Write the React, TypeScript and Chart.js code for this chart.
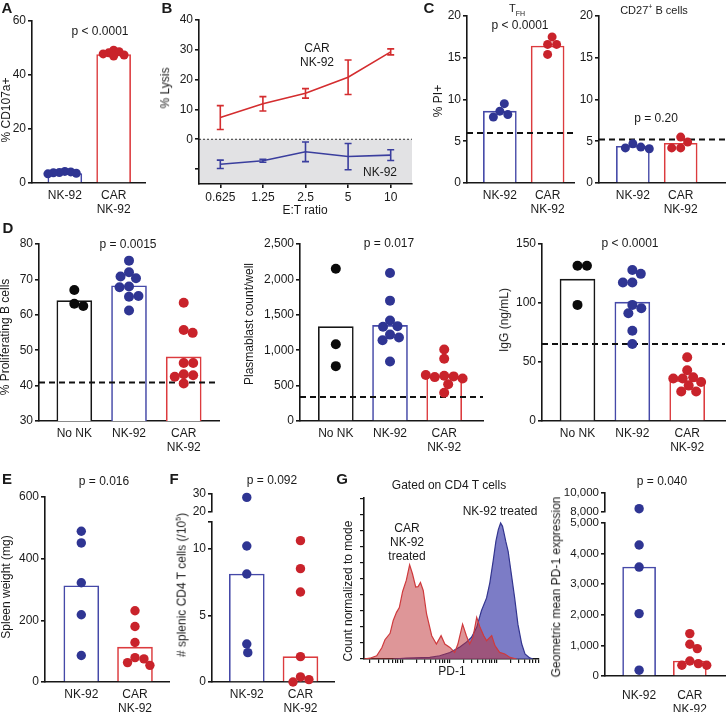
import React, { useEffect, useRef } from 'react';
import { Chart, registerables } from 'chart.js';
Chart.register(...registerables);

const FONT = "'Liberation Sans', Arial, Helvetica, sans-serif";
Chart.defaults.font.family = FONT;
Chart.defaults.font.size = 12;
Chart.defaults.color = '#1a1a1a';

const BLUE_DOT = '#2f3593';
const RED_DOT = '#c9232b';
const BLACK_DOT = '#0a0a0a';
const BLUE_BAR = '#4549a8';
const RED_BAR = '#dc3b3e';
const AXIS = '#161616';

// ---------- data ----------
const cats2: (string | string[])[] = ['NK-92', ['CAR', 'NK-92']];
const cats3: (string | string[])[] = ['No NK', 'NK-92', ['CAR', 'NK-92']];

// A: % CD107a+
const aNk = [4.3, 4.1, 3.9, 3.8, 3.6, 3.4];
const aCar = [49.2, 48.6, 48.2, 47.8, 47.4, 47.0];
const aBars = [3.5, 47.6];

// B: % lysis
const bRatios = ['0.625', '1.25', '2.5', '5', '10'];
const bCar = [7.3, 11.9, 15.4, 20.8, 29.3];
const bCarErr = [4.0, 2.4, 1.6, 5.8, 1.0];
const bNk = [-8.4, -7.2, -4.2, -5.8, -5.3];
const bNkErr = [1.4, 0.5, 3.3, 4.4, 1.8];

// C: % PI+
const cTfhNk = [8.6, 9.5, 8.2, 7.9];
const cTfhCar = [16.6, 16.6, 17.5, 15.4];
const cTfhBars = [8.6, 16.4];
const cTfhBaseline = 6.0;
const cB27Nk = [4.7, 4.3, 4.2, 4.1];
const cB27Car = [5.5, 4.9, 4.2, 4.2];
const cB27Bars = [4.4, 4.75];
const cB27Baseline = 5.2;

// D1: % proliferating B cells
const d1NoNk = [67.0, 63.1, 62.5];
const d1Nk = [75.3, 72.0, 70.3, 70.8, 68.0, 67.8, 65.1, 65.3, 61.2];
const d1Car = [63.4, 55.7, 54.9, 46.4, 46.4, 43.2, 42.9, 42.5, 40.6];
const d1Bars = [64.0, 68.2, 48.1];
const d1Baseline = 40.9;

// D2: plasmablast count/well
const d2NoNk = [2150, 1083, 775];
const d2Nk = [2090, 1700, 1420, 1340, 1330, 1220, 1180, 1140, 840];
const d2Car = [1010, 880, 640, 630, 620, 650, 600, 520, 400];
const d2Bars = [1333, 1350, 633];
const d2Baseline = 340;

// D3: IgG (ng/mL)
const d3NoNk = [131.5, 131.5, 98.4];
const d3Nk = [128, 124.7, 117.4, 117.4, 98.4, 95.6, 91.3, 76.5, 65.2];
const d3Car = [54, 43, 37, 36, 36, 33, 30, 25, 25];
const d3Bars = [120.2, 100.7, 34.3];
const d3Baseline = 65.2;

// E: spleen weight (mg)
const eNk = [489, 451, 322, 218, 86];
const eCar = [231, 180, 128, 79, 75, 63, 54];
const eBars = [312, 113];

// F: # splenic CD4 T cells (/10^5)
const fNk = [28.1, 10.2, 8.1, 2.85, 2.2];
const fCar = [10.6, 8.5, 6.75, 1.9, 0.38, 0.18, 0.0];
const fBars = [8.1, 1.9];

// G: geometric mean PD-1 expression
const gNk = [8350, 4280, 3560, 2040, 190];
const gCar = [1385, 1036, 895, 490, 405, 350, 350];
const gBars = [3560, 490];

// G histogram (PD-1 intensity, count normalized to mode)
const pd1Car = [15, 20, 28, 36, 42, 54, 63, 74, 85, 100, 120, 141, 162, 190, 214, 240, 275, 324, 417, 525, 661, 794, 1020, 1290, 1510, 1900, 2290, 2690, 3160, 3800, 4470, 5370, 6170, 7940, 9330, 11700, 15100, 19500, 26900];
const countCar = [0, 0.5, 2, 7, 12, 16, 24, 29, 32, 42, 49, 58.6, 53, 44.8, 45, 47.6, 42.6, 28, 14.5, 9.3, 14.5, 9.3, 7.2, 4.1, 9.3, 21.7, 14.5, 9.3, 13.5, 25.9, 19.7, 14.5, 11.4, 14.5, 8.3, 4.1, 3.1, 1, 0];
const pd1Nk = [63, 120, 380, 617, 1020, 1660, 2290, 2950, 3800, 4790, 6170, 7240, 8510, 9770, 11000, 12300, 13500, 14500, 15800, 17800, 20900, 24500, 28800, 34700, 40700, 51300, 60300];
const countNk = [0, 0.5, 1, 2, 4, 7.5, 10.5, 13.5, 19.7, 30, 38, 47.4, 60.9, 73.3, 80.5, 84.6, 82.5, 78.4, 73.3, 67, 52.5, 38, 21.5, 9.3, 3.1, 0.7, 0];

// ---------- layout helpers ----------
const YAW = 52, PT = 10, PR = 4, XAH = 44;
type Rect = [number, number, number, number];
type Geom = { x: number; y: number; w: number; h: number };

function geom(rect: Rect, showX = true): Geom {
  const [l, t, r, b] = rect;
  return { x: l - YAW, y: t - PT, w: r - l + YAW + PR, h: b - t + PT + (showX ? XAH : PT) };
}

function swarm(vals: number[], yPix: (v: number) => number, r: number, k: number): number[] {
  const placed: [number, number][] = [];
  return vals.map((v) => {
    const y = yPix(v);
    let off = 0;
    for (let s = 0; s < 600; s++) {
      const c = s === 0 ? 0 : (s % 2 === 1 ? 1 : -1) * Math.ceil(s / 2) * 0.5;
      if (placed.every(([px, py]) => Math.hypot(px - c, py - y) >= 2 * r * k)) { off = c; break; }
    }
    placed.push([off, y]);
    return off;
  });
}

interface BarSpec {
  rect: Rect;
  cats: (string | string[])[];
  xMin: number; xMax: number;
  yMin: number; yMax: number;
  yTicks: number[];
  ySkip?: number[];
  groups: number[][];
  dotColors: string[];
  bars?: number[];
  barColors?: string[];
  barW?: number;
  baseline?: number;
  radius: number;
  overlap: number;
  labelPad: number;
  showX?: boolean;
  yPix?: (v: number) => number;
  yFont?: number;
}

function barConfig(s: BarSpec): any {
  const [l, t, r, b] = s.rect;
  const pxPerX = (r - l) / (s.xMax - s.xMin);
  const yPix = s.yPix ?? ((v: number) => ((v - s.yMin) * (b - t)) / (s.yMax - s.yMin));
  const datasets: any[] = [];
  s.groups.forEach((vals, gi) => {
    const offs = swarm(vals, yPix, s.radius, s.overlap);
    datasets.push({
      type: 'scatter',
      data: vals.map((v, i) => ({ x: gi + 1 + offs[i] / pxPerX, y: v })),
      backgroundColor: s.dotColors[gi],
      borderWidth: 0,
      pointRadius: s.radius,
      pointHoverRadius: s.radius,
      clip: 8,
      order: 0,
    });
  });
  if (s.baseline !== undefined) {
    datasets.push({
      type: 'line',
      data: [{ x: s.xMin, y: s.baseline }, { x: s.xMax, y: s.baseline }],
      borderColor: '#111', borderWidth: 2, borderDash: [6, 4], pointRadius: 0, fill: false, order: 1,
    });
  }
  if (s.bars) {
    datasets.push({
      type: 'bar',
      data: s.bars.map((v, i) => ({ x: i + 1, y: v })),
      backgroundColor: 'rgba(255,255,255,1)',
      borderColor: s.barColors,
      borderWidth: 1.6,
      barThickness: s.barW ?? 34,
      borderSkipped: 'start',
      order: 2,
    });
  }
  const showX = s.showX !== false;
  return {
    type: 'bar',
    data: { datasets },
    options: {
      responsive: false,
      animation: false,
      events: [],
      layout: { padding: { top: PT, right: PR, left: 0, bottom: showX ? 0 : PT } },
      plugins: { legend: { display: false }, tooltip: { enabled: false } },
      scales: {
        x: {
          type: 'linear', min: s.xMin, max: s.xMax, offset: false, bounds: 'data', display: showX,
          grid: { display: false, drawTicks: false },
          border: { display: true, color: AXIS, width: 1.6 },
          ticks: {
            padding: s.labelPad, autoSkip: false, maxRotation: 0, minRotation: 0, color: '#1a1a1a', font: { size: 12 },
            callback: (v: number) => s.cats[Math.round(v) - 1] ?? '',
          },
          afterBuildTicks: (sc: any) => { sc.ticks = s.cats.map((_, i) => ({ value: i + 1 })); },
          afterFit: (sc: any) => { if (showX) sc.height = XAH; },
        },
        y: {
          type: 'linear', min: s.yMin, max: s.yMax, bounds: 'data',
          grid: { display: true, drawOnChartArea: false, drawTicks: true, tickLength: 4, color: AXIS, lineWidth: 1.6 },
          border: { display: true, color: AXIS, width: 1.6 },
          ticks: {
            padding: 2, autoSkip: false, color: '#1a1a1a', font: { size: s.yFont ?? 12 },
            callback: (v: number) => (s.ySkip && s.ySkip.includes(v) ? '' : v.toLocaleString('en-US')),
          },
          afterBuildTicks: (sc: any) => { sc.ticks = s.yTicks.map((v) => ({ value: v })); },
          afterFit: (sc: any) => { sc.width = YAW; },
        },
      },
    },
  };
}

const lysisPlugin = {
  id: 'lysisDecor',
  beforeDraw(chart: any) {
    const { ctx, chartArea: a, scales } = chart;
    const y0 = scales.y.getPixelForValue(0);
    ctx.save();
    ctx.fillStyle = '#e2e2e4';
    ctx.fillRect(a.left, y0, a.right - a.left, a.bottom - y0);
    ctx.strokeStyle = '#333';
    ctx.lineWidth = 1;
    ctx.setLineDash([2, 2]);
    ctx.beginPath();
    ctx.moveTo(a.left, y0);
    ctx.lineTo(a.right, y0);
    ctx.stroke();
    ctx.restore();
  },
  afterDatasetsDraw(chart: any) {
    const { ctx, scales } = chart;
    const errs = [bCarErr, bNkErr];
    chart.data.datasets.forEach((ds: any, di: number) => {
      const meta = chart.getDatasetMeta(di);
      ctx.save();
      ctx.strokeStyle = ds.borderColor;
      ctx.lineWidth = 1.6;
      meta.data.forEach((pt: any, j: number) => {
        const v = ds.data[j];
        const e = errs[di][j];
        const yHi = scales.y.getPixelForValue(v + e);
        const yLo = scales.y.getPixelForValue(v - e);
        ctx.beginPath();
        ctx.moveTo(pt.x, yHi); ctx.lineTo(pt.x, yLo);
        ctx.moveTo(pt.x - 3.5, yHi); ctx.lineTo(pt.x + 3.5, yHi);
        ctx.moveTo(pt.x - 3.5, yLo); ctx.lineTo(pt.x + 3.5, yLo);
        ctx.stroke();
      });
      ctx.restore();
    });
  },
};

function lysisConfig(): any {
  return {
    type: 'line',
    data: {
      labels: bRatios,
      datasets: [
        { data: bCar, borderColor: '#d42d2f', borderWidth: 1.6, pointRadius: 0, tension: 0, fill: false },
        { data: bNk, borderColor: '#3a3e9e', borderWidth: 1.6, pointRadius: 0, tension: 0, fill: false },
      ],
    },
    options: {
      responsive: false, animation: false, events: [],
      layout: { padding: { top: PT, right: PR, left: 0, bottom: 0 } },
      plugins: { legend: { display: false }, tooltip: { enabled: false } },
      scales: {
        x: {
          type: 'category', offset: true,
          grid: { display: true, offset: false, drawOnChartArea: false, drawTicks: true, tickLength: 4, color: AXIS, lineWidth: 1.6 },
          border: { display: true, color: AXIS, width: 1.6 },
          ticks: { padding: 2, autoSkip: false, maxRotation: 0, color: '#1a1a1a' },
          afterFit: (sc: any) => { sc.height = XAH; },
        },
        y: {
          type: 'linear', min: -15, max: 40, bounds: 'data',
          grid: { display: true, drawOnChartArea: false, drawTicks: true, tickLength: 4, color: AXIS, lineWidth: 1.6 },
          border: { display: true, color: AXIS, width: 1.6 },
          ticks: { padding: 2, autoSkip: false, color: '#1a1a1a', callback: (v: number) => (v < 0 ? '' : String(v)) },
          afterBuildTicks: (sc: any) => { sc.ticks = [-10, 0, 10, 20, 30, 40].map((v) => ({ value: v })); },
          afterFit: (sc: any) => { sc.width = YAW; },
        },
      },
    },
    plugins: [lysisPlugin],
  };
}

function histConfig(): any {
  return {
    type: 'line',
    data: {
      datasets: [
        {
          data: pd1Car.map((x, i) => ({ x, y: countCar[i] })),
          borderColor: '#cf3a3d', borderWidth: 1.2, backgroundColor: 'rgba(190,45,50,0.5)',
          fill: 'origin', pointRadius: 0, tension: 0, order: 0,
        },
        {
          data: pd1Nk.map((x, i) => ({ x, y: countNk[i] })),
          borderColor: '#33358f', borderWidth: 1.2, backgroundColor: 'rgba(95,95,185,0.82)',
          fill: 'origin', pointRadius: 0, tension: 0, order: 1,
        },
      ],
    },
    options: {
      responsive: false, animation: false, events: [],
      layout: { padding: { top: PT, right: PR, left: 0, bottom: 0 } },
      plugins: { legend: { display: false }, tooltip: { enabled: false } },
      scales: {
        x: {
          type: 'logarithmic', min: 15, max: 81000,
          grid: { display: true, drawOnChartArea: false, drawTicks: true, tickLength: 4, color: AXIS, lineWidth: 1.2 },
          border: { display: true, color: AXIS, width: 1.6 },
          ticks: { autoSkip: false, maxRotation: 0, callback: () => '' },
          afterBuildTicks: (sc: any) => {
            const t: { value: number }[] = [];
            for (let e = 1; e <= 4; e++) for (let m = 1; m <= 9; m++) {
              const v = m * Math.pow(10, e);
              if (v >= 15 && v <= 81000) t.push({ value: v });
            }
            sc.ticks = t;
          },
          afterFit: (sc: any) => { sc.height = XAH; },
        },
        y: {
          type: 'linear', min: 0, max: 100, bounds: 'data',
          grid: { display: true, drawOnChartArea: false, drawTicks: true, tickLength: 4, color: AXIS, lineWidth: 1.2 },
          border: { display: true, color: AXIS, width: 1.6 },
          ticks: { autoSkip: false, callback: () => '' },
          afterBuildTicks: (sc: any) => { sc.ticks = [0, 10, 20, 30, 40, 50, 60, 70, 80, 90, 100].map((v) => ({ value: v })); },
          afterFit: (sc: any) => { sc.width = YAW; },
        },
      },
    },
  };
}

// broken-axis pixel maps for swarm layout
const yPixF = (v: number) => (v <= 12 ? v * 13.25 : 12 * 13.25 + 10 + (v - 20) * 1.8);
const yPixG = (v: number) => (v <= 5000 ? v * 0.0306 : 5000 * 0.0306 + 10 + (v - 8000) * 0.0095);

const specA: BarSpec = {
  rect: [32, 21, 146, 183], cats: cats2, xMin: 0.327, xMax: 2.653, yMin: 0, yMax: 60, yTicks: [0, 20, 40, 60],
  groups: [aNk, aCar], dotColors: [BLUE_DOT, RED_DOT], bars: aBars, barColors: [BLUE_BAR, RED_BAR], barW: 34,
  radius: 4.5, overlap: 0.62, labelPad: 5,
};
const specC1: BarSpec = {
  rect: [467, 16, 575, 183], cats: cats2, xMin: 0.3125, xMax: 2.5625, yMin: 0, yMax: 20, yTicks: [0, 5, 10, 15, 20],
  groups: [cTfhNk, cTfhCar], dotColors: [BLUE_DOT, RED_DOT], bars: cTfhBars, barColors: [BLUE_BAR, RED_BAR], barW: 33,
  baseline: cTfhBaseline, radius: 4.5, overlap: 0.95, labelPad: 5,
};
const specC2: BarSpec = {
  rect: [599, 16, 726, 183], cats: cats2, xMin: 0.292, xMax: 2.9375, yMin: 0, yMax: 20, yTicks: [0, 5, 10, 15, 20],
  groups: [cB27Nk, cB27Car], dotColors: [BLUE_DOT, RED_DOT], bars: cB27Bars, barColors: [BLUE_BAR, RED_BAR], barW: 33,
  baseline: cB27Baseline, radius: 4.5, overlap: 0.95, labelPad: 5,
};
const specD1: BarSpec = {
  rect: [39, 244, 220, 421], cats: cats3, xMin: 0.3545, xMax: 3.645, yMin: 30, yMax: 80, yTicks: [30, 40, 50, 60, 70, 80],
  groups: [d1NoNk, d1Nk, d1Car], dotColors: [BLACK_DOT, BLUE_DOT, RED_DOT], bars: d1Bars, barColors: [AXIS, BLUE_BAR, RED_BAR], barW: 35,
  baseline: d1Baseline, radius: 5, overlap: 0.92, labelPad: 5,
};
const specD2: BarSpec = {
  rect: [300, 244, 484, 421], cats: cats3, xMin: 0.339, xMax: 3.716, yMin: 0, yMax: 2500, yTicks: [0, 500, 1000, 1500, 2000, 2500],
  groups: [d2NoNk, d2Nk, d2Car], dotColors: [BLACK_DOT, BLUE_DOT, RED_DOT], bars: d2Bars, barColors: [AXIS, BLUE_BAR, RED_BAR], barW: 35,
  baseline: d2Baseline, radius: 5, overlap: 0.92, labelPad: 5,
};
const specD3: BarSpec = {
  rect: [542, 244, 726, 421], cats: cats3, xMin: 0.353, xMax: 3.689, yMin: 0, yMax: 150, yTicks: [0, 50, 100, 150],
  groups: [d3NoNk, d3Nk, d3Car], dotColors: [BLACK_DOT, BLUE_DOT, RED_DOT], bars: d3Bars, barColors: [AXIS, BLUE_BAR, RED_BAR], barW: 35,
  baseline: d3Baseline, radius: 5, overlap: 0.92, labelPad: 5,
};
const specE: BarSpec = {
  rect: [45, 497, 170, 682], cats: cats2, xMin: 0.324, xMax: 2.639, yMin: 0, yMax: 600, yTicks: [0, 200, 400, 600],
  groups: [eNk, eCar], dotColors: [BLUE_DOT, RED_DOT], bars: eBars, barColors: [BLUE_BAR, RED_BAR], barW: 35,
  radius: 4.7, overlap: 0.92, labelPad: 5,
};
const specFLow: BarSpec = {
  rect: [212, 522, 335, 682], cats: cats2, xMin: 0.352, xMax: 2.63, yMin: 0, yMax: 12, yTicks: [0, 5, 10, 12], ySkip: [12],
  groups: [fNk, fCar], dotColors: [BLUE_DOT, RED_DOT], bars: fBars, barColors: [BLUE_BAR, RED_BAR], barW: 35,
  radius: 4.7, overlap: 0.92, labelPad: 5, yPix: yPixF,
};
const specFHigh: BarSpec = {
  rect: [212, 494, 335, 512], cats: cats2, xMin: 0.352, xMax: 2.63, yMin: 20, yMax: 30, yTicks: [20, 30],
  groups: [fNk, fCar], dotColors: [BLUE_DOT, RED_DOT], radius: 4.7, overlap: 0.92, labelPad: 5, yPix: yPixF, showX: false,
};
const specGLow: BarSpec = {
  rect: [605, 523, 726, 676], cats: cats2, xMin: 0.327, xMax: 2.70, yMin: 0, yMax: 5000, yTicks: [0, 1000, 2000, 3000, 4000, 5000],
  groups: [gNk, gCar], dotColors: [BLUE_DOT, RED_DOT], bars: gBars, barColors: [BLUE_BAR, RED_BAR], barW: 33,
  radius: 4.7, overlap: 0.92, labelPad: 12, yPix: yPixG, yFont: 11.5,
};
const specGHigh: BarSpec = {
  rect: [605, 493, 726, 512], cats: cats2, xMin: 0.327, xMax: 2.70, yMin: 8000, yMax: 10000, yTicks: [8000, 10000],
  groups: [gNk, gCar], dotColors: [BLUE_DOT, RED_DOT], radius: 4.7, overlap: 0.92, labelPad: 12, yPix: yPixG, showX: false, yFont: 11.5,
};

function ChartBox({ g, make }: { g: Geom; make: () => any }) {
  const ref = useRef<HTMLCanvasElement>(null);
  useEffect(() => {
    const chart = new Chart(ref.current as HTMLCanvasElement, make());
    return () => chart.destroy();
  }, []);
  return (
    <canvas ref={ref} width={g.w} height={g.h}
      style={{ position: 'absolute', left: g.x, top: g.y, width: g.w, height: g.h }} />
  );
}

function BarBox({ s }: { s: BarSpec }) {
  return <ChartBox g={geom(s.rect, s.showX !== false)} make={() => barConfig(s)} />;
}

function Label({ x, y, rot, size = 12, bold, children }: any) {
  return (
    <div style={{
      position: 'absolute', left: x, top: y,
      transform: `translate(-50%, -50%)${rot ? ' rotate(-90deg)' : ''}`,
      whiteSpace: 'nowrap', fontFamily: FONT, fontSize: size, fontWeight: bold ? 700 : 400,
      color: '#1a1a1a', lineHeight: 1.15, textAlign: 'center',
    }}>{children}</div>
  );
}

export default function App() {
  return (
    <div style={{ position: 'absolute', left: 0, top: 0, width: 726, height: 712, overflow: 'hidden', background: '#fff' }}>
      <BarBox s={specA} />
      <ChartBox g={geom([199, 20, 412, 184])} make={lysisConfig} />
      <BarBox s={specC1} />
      <BarBox s={specC2} />
      <BarBox s={specD1} />
      <BarBox s={specD2} />
      <BarBox s={specD3} />
      <BarBox s={specE} />
      <BarBox s={specFLow} />
      <BarBox s={specFHigh} />
      <ChartBox g={geom([364, 498, 539, 659])} make={histConfig} />
      <BarBox s={specGLow} />
      <BarBox s={specGHigh} />

      {/* panel letters */}
      <Label x={7} y={8} size={15} bold>A</Label>
      <Label x={167} y={8} size={15} bold>B</Label>
      <Label x={429} y={8} size={15} bold>C</Label>
      <Label x={8} y={228} size={15} bold>D</Label>
      <Label x={7} y={479} size={15} bold>E</Label>
      <Label x={174} y={479} size={15} bold>F</Label>
      <Label x={342} y={479} size={15} bold>G</Label>

      {/* A */}
      <Label x={100} y={32}>p &lt; 0.0001</Label>
      <Label x={7} y={110} rot>% CD107a+</Label>

      {/* B */}
      <Label x={166} y={88} rot>% Lysis</Label>
      <Label x={317} y={56}>CAR<br />NK-92</Label>
      <Label x={380} y={173}>NK-92</Label>
      <Label x={305} y={211}>E:T ratio</Label>

      {/* C */}
      <Label x={517} y={10} size={11}>T<sub style={{ fontSize: 7 }}>FH</sub></Label>
      <Label x={520} y={26}>p &lt; 0.0001</Label>
      <Label x={439} y={101} rot>% PI+</Label>
      <Label x={654} y={10} size={11}>CD27<sup style={{ fontSize: 7 }}>+</sup> B cells</Label>
      <Label x={656} y={119}>p = 0.20</Label>

      {/* D */}
      <Label x={128} y={245}>p = 0.0015</Label>
      <Label x={6} y={337} rot>% Proliferating B cells</Label>
      <Label x={389} y={244}>p = 0.017</Label>
      <Label x={250} y={324} rot>Plasmablast count/well</Label>
      <Label x={630} y={244}>p &lt; 0.0001</Label>
      <Label x={505} y={320} rot>IgG (ng/mL)</Label>

      {/* E */}
      <Label x={104} y={482}>p = 0.016</Label>
      <Label x={7} y={587} rot>Spleen weight (mg)</Label>

      {/* F */}
      <Label x={272} y={481}>p = 0.092</Label>
      <Label x={182} y={585} rot># splenic CD4 T cells (/10<sup style={{ fontSize: 7 }}>5</sup>)</Label>

      {/* G */}
      <Label x={449} y={486}>Gated on CD4 T cells</Label>
      <Label x={500} y={512}>NK-92 treated</Label>
      <Label x={407} y={543}>CAR<br />NK-92<br />treated</Label>
      <Label x={349} y={591} rot>Count normalized to mode</Label>
      <Label x={452} y={672}>PD-1</Label>
      <Label x={662} y={482}>p = 0.040</Label>
      <Label x={557} y={587} rot>Geometric mean PD-1 expression</Label>
    </div>
  );
}
